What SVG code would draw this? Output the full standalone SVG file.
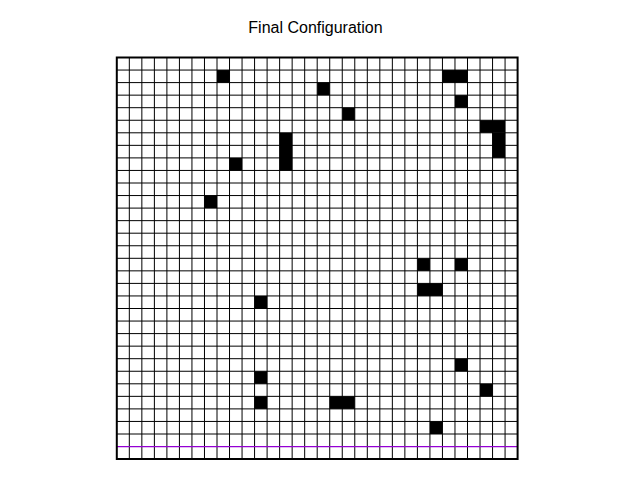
<svg xmlns="http://www.w3.org/2000/svg" width="640" height="480" viewBox="0 0 640 480">
<style>
.title{font-family:"Liberation Sans",Arial,sans-serif;font-size:16px;fill:#000}
.cell{fill:#000}
.grid{fill:none;stroke:#000;stroke-width:1}
.mark{fill:none;stroke:#9400d3;stroke-width:1.2}
.frame{fill:none;stroke:#000;stroke-width:2}
</style>
<rect width="640" height="480" fill="#fff"/>
<text class="title" x="315.5" y="33" text-anchor="middle">Final Configuration</text>
<g id="board" transform="translate(116.8,57.5) scale(12.525,12.55)">
<g id="cells">
<rect class="cell" x="8" y="1" width="1" height="1"/>
<rect class="cell" x="26" y="1" width="2" height="1"/>
<rect class="cell" x="16" y="2" width="1" height="1"/>
<rect class="cell" x="27" y="3" width="1" height="1"/>
<rect class="cell" x="18" y="4" width="1" height="1"/>
<rect class="cell" x="29" y="5" width="2" height="1"/>
<rect class="cell" x="30" y="6" width="1" height="2"/>
<rect class="cell" x="13" y="6" width="1" height="3"/>
<rect class="cell" x="9" y="8" width="1" height="1"/>
<rect class="cell" x="7" y="11" width="1" height="1"/>
<rect class="cell" x="24" y="16" width="1" height="1"/>
<rect class="cell" x="27" y="16" width="1" height="1"/>
<rect class="cell" x="24" y="18" width="2" height="1"/>
<rect class="cell" x="11" y="19" width="1" height="1"/>
<rect class="cell" x="27" y="24" width="1" height="1"/>
<rect class="cell" x="11" y="25" width="1" height="1"/>
<rect class="cell" x="29" y="26" width="1" height="1"/>
<rect class="cell" x="11" y="27" width="1" height="1"/>
<rect class="cell" x="17" y="27" width="2" height="1"/>
<rect class="cell" x="25" y="29" width="1" height="1"/>
</g>
<g id="gridlines">
<path class="grid" vector-effect="non-scaling-stroke" d="M1 0V32M2 0V32M3 0V32M4 0V32M5 0V32M6 0V32M7 0V32M8 0V32M9 0V32M10 0V32M11 0V32M12 0V32M13 0V32M14 0V32M15 0V32M16 0V32M17 0V32M18 0V32M19 0V32M20 0V32M21 0V32M22 0V32M23 0V32M24 0V32M25 0V32M26 0V32M27 0V32M28 0V32M29 0V32M30 0V32M31 0V32"/>
<path class="grid" vector-effect="non-scaling-stroke" d="M0 1H32M0 2H32M0 3H32M0 4H32M0 5H32M0 6H32M0 7H32M0 8H32M0 9H32M0 10H32M0 11H32M0 12H32M0 13H32M0 14H32M0 15H32M0 16H32M0 17H32M0 18H32M0 19H32M0 20H32M0 21H32M0 22H32M0 23H32M0 24H32M0 25H32M0 26H32M0 27H32M0 28H32M0 29H32M0 30H32"/>
<path class="mark" vector-effect="non-scaling-stroke" d="M0 31H32"/>
<rect class="frame" vector-effect="non-scaling-stroke" x="0" y="0" width="32" height="32"/>
</g>
</g>
</svg>
